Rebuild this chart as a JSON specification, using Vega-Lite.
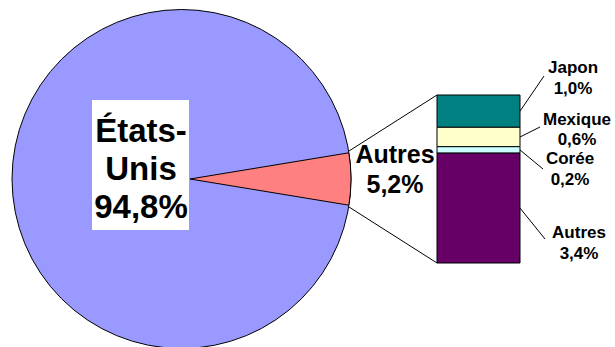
{
  "$schema": "https://vega.github.io/schema/vega-lite/v6.json",
  "width": 615,
  "height": 347,
  "padding": 0,
  "autosize": "none",
  "background": "white",
  "config": {"view": {"stroke": null}, "font": "Liberation Sans"},
  "datasets": {
    "pie": [
      {"name": "États-Unis", "value": 94.8},
      {"name": "Autres", "value": 5.2}
    ],
    "bar": [
      {"slice": "Autres", "name": "Japon", "value": 1.0, "rank": 4},
      {"slice": "Autres", "name": "Mexique", "value": 0.6, "rank": 3},
      {"slice": "Autres", "name": "Corée", "value": 0.2, "rank": 2},
      {"slice": "Autres", "name": "Autres", "value": 3.4, "rank": 1}
    ]
  },
  "layer": [
    {
      "data": {"name": "pie"},
      "transform": [{"filter": "datum.name === 'États-Unis'"}],
      "mark": {"type": "arc", "x": 181.5, "y": 179, "radius": 169.5, "theta": 6.2832, "fill": "#9999FF", "stroke": "#000000", "strokeWidth": 1},
      "encoding": {}
    },
    {
      "data": {"name": "pie"},
      "transform": [{"filter": "datum.name === 'Autres'"}],
      "mark": {"type": "arc", "x": 190, "y": 179, "radius": 161, "fill": "#FF8080", "stroke": "#000000", "strokeWidth": 1},
      "encoding": {
        "theta": {"field": "value", "type": "quantitative", "stack": true, "scale": {"domain": [0, 100], "range": [1.4074, 7.6906]}}
      }
    },
    {
      "data": {"name": "pie"},
      "transform": [{"filter": "datum.name === 'Autres'"}],
      "layer": [
        {
          "mark": {"type": "rule", "color": "#000000", "strokeWidth": 1},
          "encoding": {
            "x": {"value": 437},
            "x2": {"value": 349},
            "y": {"datum": 5.2, "type": "quantitative", "scale": {"domain": [0, 5.2], "range": [263, 95], "nice": false}, "axis": null},
            "y2": {"value": 151}
          }
        },
        {
          "mark": {"type": "rule", "color": "#000000", "strokeWidth": 1},
          "encoding": {
            "x": {"value": 437},
            "x2": {"value": 349},
            "y": {"datum": 0, "type": "quantitative", "scale": {"domain": [0, 5.2], "range": [263, 95], "nice": false}, "axis": null},
            "y2": {"value": 207}
          }
        }
      ]
    },
    {
      "data": {"name": "bar"},
      "mark": {"type": "bar", "stroke": "#000000", "strokeWidth": 1},
      "encoding": {
        "x": {"field": "slice", "type": "nominal", "scale": {"domain": ["Autres"], "range": [437, 520], "paddingInner": 0, "paddingOuter": 0}, "axis": null},
        "y": {"field": "value", "type": "quantitative", "stack": "zero", "scale": {"domain": [0, 5.2], "range": [263, 95], "nice": false}, "axis": null},
        "order": {"field": "rank", "type": "quantitative"},
        "color": {"field": "name", "type": "nominal", "scale": {"domain": ["Japon", "Mexique", "Corée", "Autres"], "range": ["#008080", "#FFFFCC", "#CCFFFF", "#660066"]}, "legend": null}
      }
    },
    {
      "data": {"name": "pie"},
      "transform": [
        {"filter": "datum.name === 'États-Unis'"},
        {"calculate": "replace(datum.name, '-', '-\\n') + '\\n' + replace(format(datum.value, '.1f'), '.', ',') + '%'", "as": "label"}
      ],
      "layer": [
        {
          "mark": {"type": "rect", "fill": "#FFFFFF", "x": 92, "x2": 189, "y": 100, "y2": 230},
          "encoding": {}
        },
        {
          "mark": {"type": "text", "x": 141, "y": 142, "align": "center", "baseline": "alphabetic", "font": "Liberation Sans", "fontSize": 33, "fontWeight": "bold", "lineHeight": 38, "lineBreak": "\n", "color": "#000000"},
          "encoding": {"text": {"field": "label"}}
        }
      ]
    },
    {
      "data": {"name": "pie"},
      "transform": [
        {"filter": "datum.name === 'Autres'"},
        {"calculate": "datum.name + '\\n' + replace(format(datum.value, '.1f'), '.', ',') + '%'", "as": "label"}
      ],
      "mark": {"type": "text", "x": 395, "y": 163, "align": "center", "baseline": "alphabetic", "font": "Liberation Sans", "fontSize": 25, "fontWeight": "bold", "lineHeight": 30, "lineBreak": "\n", "color": "#000000"},
      "encoding": {"text": {"field": "label"}}
    },
    {
      "data": {"name": "bar"},
      "transform": [
        {"stack": "value", "groupby": [], "sort": [{"field": "rank", "order": "ascending"}], "as": ["v0", "v1"]},
        {"calculate": "(datum.v0 + datum.v1) / 2", "as": "mid"},
        {"calculate": "datum.name + '\\n' + replace(format(datum.value, '.1f'), '.', ',') + '%'", "as": "label"}
      ],
      "layer": [
        {
          "transform": [{"filter": "datum.name === 'Japon'"}],
          "layer": [
            {
              "mark": {"type": "rule", "color": "#000000", "strokeWidth": 1},
              "encoding": {
                "x": {"value": 520}, "x2": {"value": 544},
                "y": {"field": "mid", "type": "quantitative", "scale": {"domain": [0, 5.2], "range": [263, 95], "nice": false}, "axis": null},
                "y2": {"value": 76}
              }
            },
            {
              "mark": {"type": "text", "x": 573, "dy": -38, "align": "center", "baseline": "alphabetic", "font": "Liberation Sans", "fontSize": 17, "fontWeight": "bold", "lineHeight": 21, "lineBreak": "\n", "color": "#000000"},
              "encoding": {
                "y": {"field": "mid", "type": "quantitative", "scale": {"domain": [0, 5.2], "range": [263, 95], "nice": false}, "axis": null},
                "text": {"field": "label"}
              }
            }
          ]
        },
        {
          "transform": [{"filter": "datum.name === 'Mexique'"}],
          "layer": [
            {
              "mark": {"type": "rule", "color": "#000000", "strokeWidth": 1},
              "encoding": {
                "x": {"value": 520}, "x2": {"value": 540},
                "y": {"field": "mid", "type": "quantitative", "scale": {"domain": [0, 5.2], "range": [263, 95], "nice": false}, "axis": null},
                "y2": {"value": 127}
              }
            },
            {
              "mark": {"type": "text", "x": 577, "dy": -12, "align": "center", "baseline": "alphabetic", "font": "Liberation Sans", "fontSize": 17, "fontWeight": "bold", "lineHeight": 20, "lineBreak": "\n", "color": "#000000"},
              "encoding": {
                "y": {"field": "mid", "type": "quantitative", "scale": {"domain": [0, 5.2], "range": [263, 95], "nice": false}, "axis": null},
                "text": {"field": "label"}
              }
            }
          ]
        },
        {
          "transform": [{"filter": "datum.name === 'Corée'"}],
          "layer": [
            {
              "mark": {"type": "rule", "color": "#000000", "strokeWidth": 1},
              "encoding": {
                "x": {"value": 520}, "x2": {"value": 543},
                "y": {"field": "mid", "type": "quantitative", "scale": {"domain": [0, 5.2], "range": [263, 95], "nice": false}, "axis": null},
                "y2": {"value": 169}
              }
            },
            {
              "mark": {"type": "text", "x": 570, "dy": 14, "align": "center", "baseline": "alphabetic", "font": "Liberation Sans", "fontSize": 17, "fontWeight": "bold", "lineHeight": 21, "lineBreak": "\n", "color": "#000000"},
              "encoding": {
                "y": {"field": "mid", "type": "quantitative", "scale": {"domain": [0, 5.2], "range": [263, 95], "nice": false}, "axis": null},
                "text": {"field": "label"}
              }
            }
          ]
        },
        {
          "transform": [{"filter": "datum.name === 'Autres'"}],
          "layer": [
            {
              "mark": {"type": "rule", "color": "#000000", "strokeWidth": 1},
              "encoding": {
                "x": {"value": 520}, "x2": {"value": 545},
                "y": {"field": "mid", "type": "quantitative", "scale": {"domain": [0, 5.2], "range": [263, 95], "nice": false}, "axis": null},
                "y2": {"value": 239}
              }
            },
            {
              "mark": {"type": "text", "x": 579, "dy": 30, "align": "center", "baseline": "alphabetic", "font": "Liberation Sans", "fontSize": 17, "fontWeight": "bold", "lineHeight": 21, "lineBreak": "\n", "color": "#000000"},
              "encoding": {
                "y": {"field": "mid", "type": "quantitative", "scale": {"domain": [0, 5.2], "range": [263, 95], "nice": false}, "axis": null},
                "text": {"field": "label"}
              }
            }
          ]
        }
      ]
    }
  ]
}
